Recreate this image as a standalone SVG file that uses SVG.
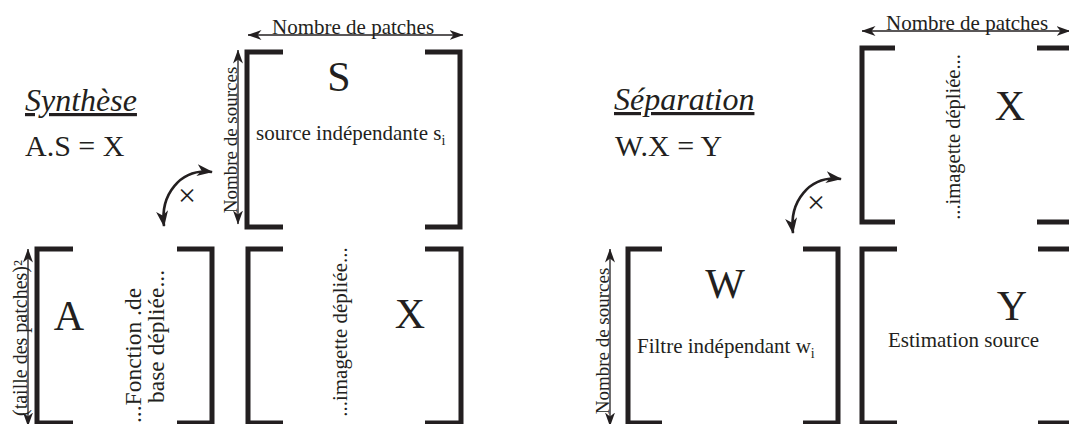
<svg xmlns="http://www.w3.org/2000/svg" width="1069" height="424" viewBox="0 0 1069 424">
<style>
text{font-family:"Liberation Serif","Times New Roman",serif;fill:#231f20}
.br{fill:none;stroke:#231f20;stroke-width:5;stroke-linejoin:miter;stroke-linecap:butt}
.dim{fill:none;stroke:#231f20;stroke-width:1.3;marker-start:url(#ah);marker-end:url(#ah)}
.rot{fill:none;stroke:#231f20;stroke-width:2.6;marker-start:url(#ahc);marker-end:url(#ahc)}
.big{font-size:42px;text-anchor:middle}
.lab{font-size:21px}
.ttl{font-size:32px;font-style:italic;text-decoration:underline}
.eq{font-size:30px}
.mul{font-size:32px;text-anchor:middle}
</style>
<defs>
<marker id="ah" viewBox="0 0 14 10" refX="13.5" refY="5" markerWidth="14" markerHeight="10" markerUnits="userSpaceOnUse" orient="auto-start-reverse"><path d="M0,0 L14,5 L0,10 L4,5 z" fill="#231f20"/></marker>
<marker id="ahc" viewBox="0 0 16 12" refX="15" refY="6" markerWidth="16" markerHeight="12" markerUnits="userSpaceOnUse" orient="auto-start-reverse"><path d="M0,0 L16,6 L0,12 L4.5,6 z" fill="#231f20"/></marker>
</defs>

<g id="synthese-title">
<text class="ttl" x="25" y="111">Synthèse</text>
<text class="eq" x="25" y="156">A.S = X</text>
</g>

<g id="matrix-S">
<path class="br" d="M283,52 H247 V227 H283"/>
<path class="br" d="M425,52 H460 V227 H425"/>
<text class="big" x="339" y="91">S</text>
<text class="lab" x="256" y="140">source indépendante s<tspan font-size="14" dy="5">i</tspan></text>
</g>

<g id="matrix-A">
<path class="br" d="M73,249 H37 V423 H73"/>
<path class="br" d="M177,249 H212 V423 H177"/>
<text class="big" x="69" y="330">A</text>
<text style="font-size:23.5px" transform="translate(141,423) rotate(-90)">...Fonction .de</text>
<text style="font-size:23.5px" transform="translate(164,403) rotate(-90)">base dépliée...</text>
</g>

<g id="matrix-X1">
<path class="br" d="M283,249 H248 V423 H283"/>
<path class="br" d="M425,249 H461 V423 H425"/>
<text class="big" x="410" y="328">X</text>
<text class="lab" text-anchor="middle" transform="translate(347,332) rotate(-90)">...imagette dépliée...</text>
</g>

<g id="separation-title">
<text class="ttl" x="614" y="110">Séparation</text>
<text class="eq" x="615" y="156">W.X = Y</text>
</g>

<g id="matrix-X2">
<path class="br" d="M895,48 H862 V222 H895"/>
<path class="br" d="M1037,48 H1072 V222 H1037"/>
<text class="big" x="1010" y="120">X</text>
<text style="font-size:20.5px" text-anchor="middle" transform="translate(960,137) rotate(-90)">...imagette dépliée...</text>
</g>

<g id="matrix-W">
<path class="br" d="M662,249 H628 V423 H662"/>
<path class="br" d="M803,249 H838 V423 H803"/>
<text class="big" x="725" y="298">W</text>
<text class="lab" x="637" y="353">Filtre indépendant w<tspan font-size="14" dy="5">i</tspan></text>
</g>

<g id="matrix-Y">
<path class="br" d="M897,249 H862 V423 H897"/>
<path class="br" d="M1038,249 H1072 V423 H1038"/>
<text class="big" x="1012" y="320">Y</text>
<text class="lab" x="888" y="347">Estimation source</text>
</g>

<g id="connectors">
<path class="dim" d="M248,35 H463"/>
<text class="lab" x="272" y="34">Nombre de patches</text>
<path class="dim" d="M238,50 V224"/>
<text style="font-size:19px" text-anchor="middle" transform="translate(236.5,140) rotate(-90)">Nombre de sources</text>
<path class="dim" d="M28,249 V426"/>
<text style="font-size:20px" text-anchor="middle" transform="translate(26.5,338) rotate(-90)">(taille des patches)²</text>
<path class="rot" d="M164,226 C160,195 180,168 212,172"/>
<text class="mul" x="187" y="206">×</text>

<path class="dim" d="M862,31 H1070"/>
<text class="lab" x="886" y="30">Nombre de patches</text>
<path class="dim" d="M610,249 V426"/>
<text style="font-size:19px" text-anchor="middle" transform="translate(608.5,341) rotate(-90)">Nombre de sources</text>
<path class="rot" d="M793,233 C789,202 809,175 841,179"/>
<text class="mul" x="816" y="213">×</text>
</g>
</svg>
